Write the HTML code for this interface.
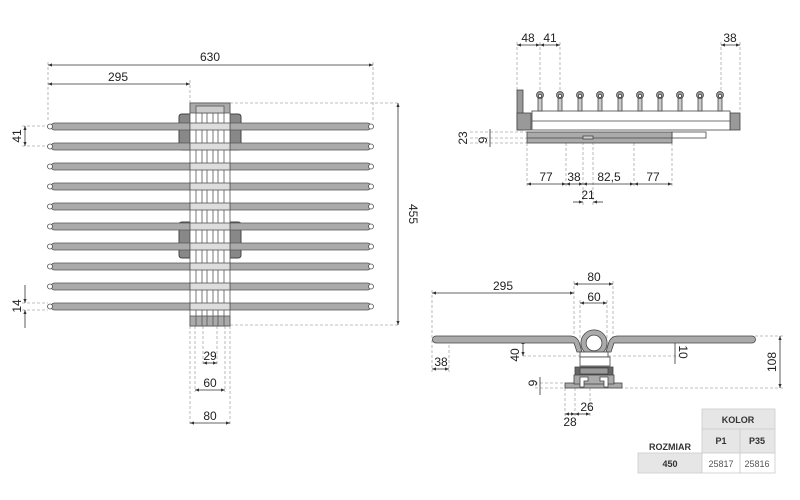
<!DOCTYPE html>
<html><head><meta charset="utf-8"><style>
html,body{margin:0;padding:0;background:#fff;}
svg{display:block;font-family:"Liberation Sans",sans-serif;}
</style></head><body>
<svg width="800" height="500" viewBox="0 0 800 500" xmlns="http://www.w3.org/2000/svg">
<defs>
<marker id="a" viewBox="0 0 10 10" refX="10" refY="5" markerWidth="5" markerHeight="5" orient="auto-start-reverse"><path d="M0,1 L10,5 L0,9 z" fill="#333"/></marker>
</defs>
<g stroke="#aaa" stroke-width="0.8" stroke-dasharray="3,2" fill="none">
<line x1="48" y1="62" x2="48" y2="122"/>
<line x1="373" y1="62" x2="373" y2="122"/>
<line x1="190" y1="80" x2="190" y2="103"/>
<line x1="230" y1="103" x2="400" y2="103"/>
<line x1="230" y1="325" x2="400" y2="325"/>
<line x1="22" y1="126" x2="48" y2="126"/>
<line x1="22" y1="146" x2="48" y2="146"/>
<line x1="22" y1="303" x2="48" y2="303"/>
<line x1="22" y1="310" x2="48" y2="310"/>
<line x1="190" y1="326" x2="190" y2="425"/>
<line x1="230" y1="326" x2="230" y2="425"/>
<line x1="195" y1="326" x2="195" y2="392"/>
<line x1="225" y1="326" x2="225" y2="392"/>
<line x1="203" y1="326" x2="203" y2="365"/>
<line x1="217" y1="326" x2="217" y2="365"/>
<line x1="517" y1="42" x2="517" y2="92"/>
<line x1="540" y1="42" x2="540" y2="92"/>
<line x1="560" y1="42" x2="560" y2="92"/>
<line x1="721" y1="42" x2="721" y2="92"/>
<line x1="740" y1="42" x2="740" y2="112"/>
<line x1="470" y1="132" x2="527" y2="132"/>
<line x1="470" y1="138" x2="527" y2="138"/>
<line x1="470" y1="143" x2="527" y2="143"/>
<line x1="527" y1="143" x2="527" y2="187"/>
<line x1="566" y1="143" x2="566" y2="187"/>
<line x1="583" y1="137" x2="583" y2="205"/>
<line x1="593" y1="137" x2="593" y2="205"/>
<line x1="634" y1="143" x2="634" y2="187"/>
<line x1="672" y1="143" x2="672" y2="187"/>
<line x1="432" y1="290" x2="432" y2="372"/>
<line x1="574" y1="281" x2="574" y2="340"/>
<line x1="613" y1="281" x2="613" y2="340"/>
<line x1="580" y1="300" x2="580" y2="340"/>
<line x1="607" y1="300" x2="607" y2="340"/>
<line x1="449" y1="340" x2="449" y2="372"/>
<line x1="523" y1="356" x2="680" y2="356"/>
<line x1="755" y1="336" x2="785" y2="336"/>
<line x1="535" y1="383" x2="565" y2="383"/>
<line x1="535" y1="388" x2="785" y2="388"/>
<line x1="565" y1="388" x2="565" y2="420"/>
<line x1="575" y1="388" x2="575" y2="416"/>
<line x1="590" y1="388" x2="590" y2="416"/>
</g>

<g stroke="#333" stroke-width="0.8" fill="none">
<line x1="48" y1="65" x2="373" y2="65" marker-start="url(#a)" marker-end="url(#a)"/>
<line x1="48" y1="84" x2="190" y2="84" marker-start="url(#a)" marker-end="url(#a)"/>
<line x1="398" y1="103" x2="398" y2="325" marker-start="url(#a)" marker-end="url(#a)"/>
<line x1="25" y1="126" x2="25" y2="146" marker-start="url(#a)" marker-end="url(#a)"/>
<line x1="25" y1="285" x2="25" y2="303" marker-end="url(#a)"/>
<line x1="25" y1="328" x2="25" y2="310" marker-end="url(#a)"/>
<line x1="203" y1="363" x2="217" y2="363" marker-start="url(#a)" marker-end="url(#a)"/>
<line x1="195" y1="390" x2="225" y2="390" marker-start="url(#a)" marker-end="url(#a)"/>
<line x1="190" y1="423" x2="230" y2="423" marker-start="url(#a)" marker-end="url(#a)"/>
<line x1="517" y1="45" x2="540" y2="45" marker-start="url(#a)" marker-end="url(#a)"/>
<line x1="540" y1="45" x2="560" y2="45" marker-start="url(#a)" marker-end="url(#a)"/>
<line x1="721" y1="45" x2="740" y2="45" marker-start="url(#a)" marker-end="url(#a)"/>
<line x1="490" y1="129" x2="490" y2="147"/>
<line x1="527" y1="184" x2="566" y2="184" marker-start="url(#a)" marker-end="url(#a)"/>
<line x1="566" y1="184" x2="583" y2="184" marker-start="url(#a)" marker-end="url(#a)"/>
<line x1="583" y1="184" x2="634" y2="184" marker-start="url(#a)" marker-end="url(#a)"/>
<line x1="634" y1="184" x2="672" y2="184" marker-start="url(#a)" marker-end="url(#a)"/>
<line x1="573" y1="202" x2="583" y2="202" marker-end="url(#a)"/>
<line x1="603" y1="202" x2="593" y2="202" marker-end="url(#a)"/>
<line x1="432" y1="293" x2="574" y2="293" marker-start="url(#a)" marker-end="url(#a)"/>
<line x1="574" y1="284" x2="613" y2="284" marker-start="url(#a)" marker-end="url(#a)"/>
<line x1="580" y1="303" x2="607" y2="303" marker-start="url(#a)" marker-end="url(#a)"/>
<line x1="780" y1="336" x2="780" y2="388" marker-start="url(#a)" marker-end="url(#a)"/>
<line x1="523" y1="340" x2="523" y2="356" marker-start="url(#a)" marker-end="url(#a)"/>
<line x1="675" y1="343" x2="675" y2="364"/>
<line x1="432" y1="369" x2="449" y2="369" marker-start="url(#a)" marker-end="url(#a)"/>
<line x1="540" y1="377" x2="540" y2="395"/>
<line x1="575" y1="414" x2="590" y2="414" marker-start="url(#a)" marker-end="url(#a)"/>
<line x1="565" y1="414" x2="575" y2="414" marker-start="url(#a)" marker-end="url(#a)"/>
</g>

<g stroke="#444" stroke-width="1">
<path d="M182,114 h8 v36 h-8 q-3,0 -3,-3 v-30 q0,-3 3,-3z" fill="#888"/>
<path d="M238,114 h-8 v36 h8 q3,0 3,-3 v-30 q0,-3 -3,-3z" fill="#888"/>
<path d="M182,222 h8 v36 h-8 q-3,0 -3,-3 v-30 q0,-3 3,-3z" fill="#888"/>
<path d="M238,222 h-8 v36 h8 q3,0 3,-3 v-30 q0,-3 -3,-3z" fill="#888"/>
</g>
<g stroke="#555" stroke-width="0.8">
<g fill="#aaa">
<rect x="51" y="123" width="320" height="7" rx="3.5"/>
<rect x="51" y="143" width="320" height="7" rx="3.5"/>
<rect x="51" y="163" width="320" height="7" rx="3.5"/>
<rect x="51" y="183" width="320" height="7" rx="3.5"/>
<rect x="51" y="203" width="320" height="7" rx="3.5"/>
<rect x="51" y="223" width="320" height="7" rx="3.5"/>
<rect x="51" y="243" width="320" height="7" rx="3.5"/>
<rect x="51" y="263" width="320" height="7" rx="3.5"/>
<rect x="51" y="283" width="320" height="7" rx="3.5"/>
<rect x="51" y="303" width="320" height="7" rx="3.5"/>
</g>
<g fill="#fff">
<circle cx="50" cy="126.5" r="2.5"/><circle cx="371" cy="126.5" r="2.5"/>
<circle cx="50" cy="146.5" r="2.5"/><circle cx="371" cy="146.5" r="2.5"/>
<circle cx="50" cy="166.5" r="2.5"/><circle cx="371" cy="166.5" r="2.5"/>
<circle cx="50" cy="186.5" r="2.5"/><circle cx="371" cy="186.5" r="2.5"/>
<circle cx="50" cy="206.5" r="2.5"/><circle cx="371" cy="206.5" r="2.5"/>
<circle cx="50" cy="226.5" r="2.5"/><circle cx="371" cy="226.5" r="2.5"/>
<circle cx="50" cy="246.5" r="2.5"/><circle cx="371" cy="246.5" r="2.5"/>
<circle cx="50" cy="266.5" r="2.5"/><circle cx="371" cy="266.5" r="2.5"/>
<circle cx="50" cy="286.5" r="2.5"/><circle cx="371" cy="286.5" r="2.5"/>
<circle cx="50" cy="306.5" r="2.5"/><circle cx="371" cy="306.5" r="2.5"/>
</g>
</g>
<g stroke="#555" stroke-width="0.8">
<rect x="190" y="103" width="40" height="223" fill="#fff"/>
<rect x="190" y="103" width="40" height="10" fill="#aaa"/>
<rect x="196" y="106" width="28" height="7" fill="#ccc"/>
<rect x="190" y="316" width="40" height="10" fill="#aaa"/>
<g fill="none">
<line x1="196" y1="113" x2="196" y2="326"/>
<line x1="202" y1="113" x2="202" y2="326"/>
<line x1="207" y1="113" x2="207" y2="326"/>
<line x1="213" y1="113" x2="213" y2="326"/>
<line x1="218" y1="113" x2="218" y2="326"/>
<line x1="224" y1="113" x2="224" y2="326"/>
</g>
<g fill="#ddd">
<rect x="190" y="123" width="40" height="7"/><rect x="190" y="143" width="40" height="7"/>
<rect x="190" y="163" width="40" height="7"/><rect x="190" y="183" width="40" height="7"/>
<rect x="190" y="203" width="40" height="7"/><rect x="190" y="223" width="40" height="7"/>
<rect x="190" y="243" width="40" height="7"/><rect x="190" y="263" width="40" height="7"/>
<rect x="190" y="283" width="40" height="7"/><rect x="190" y="303" width="40" height="7"/>
</g>
</g>

<g stroke="#444" stroke-width="0.8">
<rect x="517" y="90" width="6" height="40" fill="#999"/>
<rect x="517" y="113" width="14" height="17" fill="#999"/>
<rect x="730" y="113" width="10" height="17" fill="#999"/>
<rect x="532" y="111" width="198" height="19" fill="#fff"/>
<line x1="532" y1="121" x2="730" y2="121"/>
<rect x="672" y="132" width="34" height="6" fill="#fff"/>
<rect x="527" y="132" width="145" height="11" fill="#aaa"/>
<line x1="527" y1="138" x2="672" y2="138"/>
<rect x="583" y="136" width="10" height="3" fill="#ccc"/>
<g fill="#ccc">
<rect x="538" y="96" width="4" height="15"/><rect x="558" y="96" width="4" height="15"/>
<rect x="578" y="96" width="4" height="15"/><rect x="598" y="96" width="4" height="15"/>
<rect x="618" y="96" width="4" height="15"/><rect x="638" y="96" width="4" height="15"/>
<rect x="658" y="96" width="4" height="15"/><rect x="678" y="96" width="4" height="15"/>
<rect x="698" y="96" width="4" height="15"/><rect x="718" y="96" width="4" height="15"/>
</g>
<g fill="#999">
<circle cx="540" cy="95" r="3.5"/><circle cx="560" cy="95" r="3.5"/><circle cx="580" cy="95" r="3.5"/>
<circle cx="600" cy="95" r="3.5"/><circle cx="620" cy="95" r="3.5"/><circle cx="640" cy="95" r="3.5"/>
<circle cx="660" cy="95" r="3.5"/><circle cx="680" cy="95" r="3.5"/><circle cx="700" cy="95" r="3.5"/>
<circle cx="720" cy="95" r="3.5"/>
</g>
<g fill="#fff">
<circle cx="540" cy="96" r="1.6"/><circle cx="560" cy="96" r="1.6"/><circle cx="580" cy="96" r="1.6"/>
<circle cx="600" cy="96" r="1.6"/><circle cx="620" cy="96" r="1.6"/><circle cx="640" cy="96" r="1.6"/>
<circle cx="660" cy="96" r="1.6"/><circle cx="680" cy="96" r="1.6"/><circle cx="700" cy="96" r="1.6"/>
<circle cx="720" cy="96" r="1.6"/>
</g>
</g>

<g stroke="#444" stroke-width="0.8">
<path d="M436,336 L570,336 Q578,336 580,345 L582,352 L577,352 L574,343 L436,343 A3.5,3.5 0 0 1 436,336z" fill="#aaa"/>
<path d="M752,336 L618,336 Q610,336 608,345 L606,352 L611,352 L614,343 L752,343 A3.5,3.5 0 0 0 752,336z" fill="#aaa"/>
<circle cx="594" cy="343" r="10.5" fill="none" stroke="#444" stroke-width="6"/>
<circle cx="594" cy="343" r="10.5" fill="none" stroke="#aaa" stroke-width="4.4"/>
<rect x="580" y="352" width="28" height="5" fill="#fff"/>
<rect x="580" y="357" width="30" height="9" fill="#fff"/>
<rect x="575" y="367" width="38" height="8" fill="#666"/>
<rect x="580" y="368" width="28" height="6" fill="#999"/>
<rect x="565" y="383" width="57" height="5" fill="#aaa"/>
<rect x="574" y="375" width="40" height="9" fill="#aaa"/>
<path d="M580,387 v-10 h8 v4 h-4 v6z M608,387 v-10 h-8 v4 h4 v6z" fill="#fff"/>
</g>

<g stroke="#ccc" stroke-width="0.8">
<rect x="702" y="409" width="73" height="20" fill="#e6e6e6"/>
<rect x="702" y="429" width="38" height="24" fill="#e6e6e6"/>
<rect x="740" y="429" width="35" height="24" fill="#e6e6e6"/>
<rect x="638" y="453" width="64" height="20" fill="#e6e6e6"/>
<rect x="702" y="453" width="38" height="20" fill="#fff"/>
<rect x="740" y="453" width="35" height="20" fill="#fff"/>
</g>

<g fill="#222" font-size="12" text-anchor="middle">
<text x="210" y="61">630</text>
<text x="118" y="81">295</text>
<text transform="translate(409,214) rotate(90)">455</text>
<text transform="translate(21,136) rotate(-90)">41</text>
<text transform="translate(21,306) rotate(-90)">14</text>
<text x="210" y="360">29</text>
<text x="210" y="387">60</text>
<text x="210" y="420">80</text>
<text x="528" y="42">48</text>
<text x="550" y="42">41</text>
<text x="730" y="42">38</text>
<text transform="translate(467,138) rotate(-90)">23</text>
<text transform="translate(487,140) rotate(-90)">9</text>
<text x="546" y="181">77</text>
<text x="574" y="181">38</text>
<text x="609" y="181">82,5</text>
<text x="653" y="181">77</text>
<text x="588" y="199">21</text>
<text x="503" y="290">295</text>
<text x="594" y="281">80</text>
<text x="594" y="301">60</text>
<text x="441" y="366">38</text>
<text transform="translate(519,355) rotate(-90)">40</text>
<text transform="translate(679,352) rotate(90)">10</text>
<text transform="translate(776,362) rotate(-90)">108</text>
<text transform="translate(537,383) rotate(-90)">9</text>
<text x="587" y="411">26</text>
<text x="570" y="426">28</text>
</g>
<g font-size="9" text-anchor="middle">
<text x="738" y="423" font-weight="bold" fill="#333">KOLOR</text>
<text x="721" y="444" font-weight="bold" fill="#333">P1</text>
<text x="757" y="444" font-weight="bold" fill="#333">P35</text>
<text x="670" y="450" font-weight="bold" fill="#333">ROZMIAR</text>
<text x="670" y="467" font-weight="bold" fill="#333">450</text>
<text x="721" y="467" fill="#555">25817</text>
<text x="757" y="467" fill="#555">25816</text>
</g>
</svg>
</body></html>
